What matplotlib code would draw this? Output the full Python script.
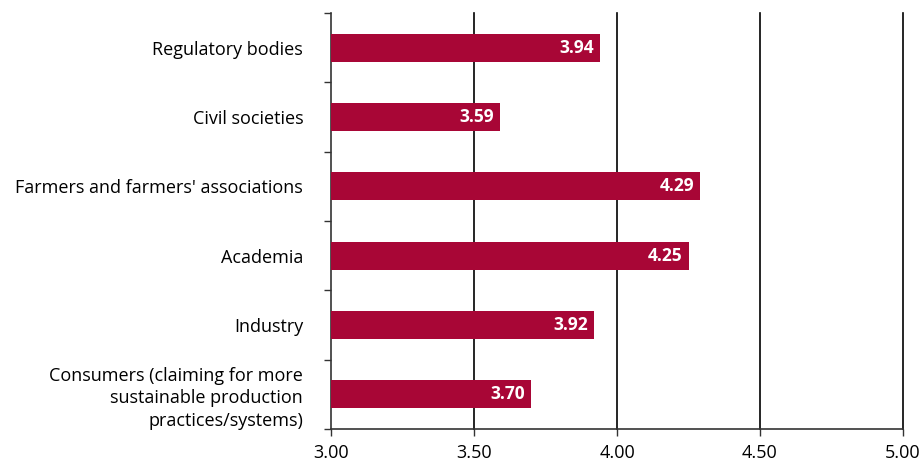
import matplotlib.pyplot as plt
import numpy as np

plt.rcParams['font.family'] = ['Open Sans', 'DejaVu Sans']

categories = [
    "Regulatory bodies",
    "Civil societies",
    "Farmers and farmers' associations",
    "Academia",
    "Industry",
    "Consumers (claiming for more\nsustainable production\npractices/systems)",
]
scores = [3.94, 3.59, 4.29, 4.25, 3.92, 3.70]
xticks = [3.00, 3.50, 4.00, 4.50, 5.00]

bar_color = '#a80636'

fig = plt.figure(figsize=(9.22, 4.65), dpi=100)
ax = fig.add_axes([331 / 922, 36 / 465, 572 / 922, 416 / 465])

y = np.arange(len(categories))[::-1]
ax.barh(y, np.array(scores) - 3.0, left=3.0, height=0.4, color=bar_color, zorder=3)

for yi, v in zip(y, scores):
    ax.text(v - 0.02, yi, f"{v:.2f}", ha='right', va='center', color='white',
            fontsize=12.5, fontweight='bold', zorder=4)

ax.set_xlim(3.0, 5.0)
ax.set_ylim(-0.5, len(categories) - 0.5)
ax.set_xticks(xticks)
ax.set_xticklabels([f"{t:.2f}" for t in xticks], fontsize=13)

# category labels sit between the boundary ticks
ax.set_yticks(np.arange(-0.5, len(categories), 1.0))
ax.set_yticklabels([])
ax.set_yticks(y, minor=True)
ax.set_yticklabels(categories, minor=True, fontsize=13, linespacing=1.3)
ax.tick_params(axis='y', which='minor', length=0, pad=20)
ax.tick_params(axis='y', which='major', length=5, width=1, color='#333333')
ax.tick_params(axis='x', length=5, width=1, color='#333333', pad=6)

for t in xticks[1:]:
    ax.axvline(t, color='black', lw=1.2, zorder=2, clip_on=False)

ax.spines['top'].set_visible(False)
ax.spines['right'].set_visible(False)
for s in ('left', 'bottom'):
    ax.spines[s].set_color('#333333')
    ax.spines[s].set_linewidth(1.2)

fig.savefig('out.png', dpi=100)
